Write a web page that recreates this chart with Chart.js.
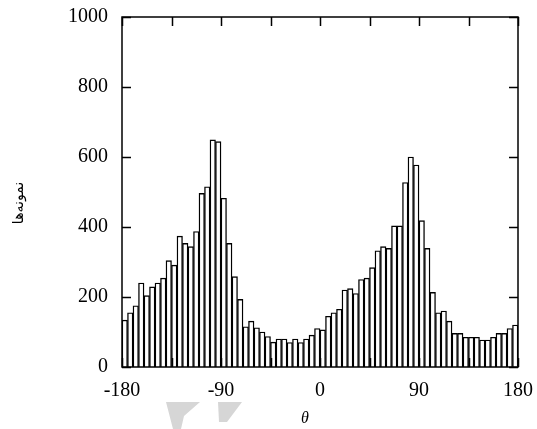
<!DOCTYPE html>
<html>
<head>
<meta charset="utf-8">
<script src="https://cdn.jsdelivr.net/npm/chart.js@4"></script>
<style>
  html, body { margin: 0; padding: 0; background: #fff; }
  canvas { display: block; }
</style>
</head>
<body>
<canvas id="hist" width="537" height="429"></canvas>
<script>
// ── data ─────────────────────────────────────
const binCenters = [
  -177.5, -172.5, -167.5, -162.5, -157.5, -152.5, -147.5, -142.5, -137.5, -132.5,
  -127.5, -122.5, -117.5, -112.5, -107.5, -102.5, -97.5, -92.5, -87.5, -82.5,
  -77.5, -72.5, -67.5, -62.5, -57.5, -52.5, -47.5, -42.5, -37.5, -32.5,
  -27.5, -22.5, -17.5, -12.5, -7.5, -2.5, 2.5, 7.5, 12.5, 17.5,
  22.5, 27.5, 32.5, 37.5, 42.5, 47.5, 52.5, 57.5, 62.5, 67.5,
  72.5, 77.5, 82.5, 87.5, 92.5, 97.5, 102.5, 107.5, 112.5, 117.5,
  122.5, 127.5, 132.5, 137.5, 142.5, 147.5, 152.5, 157.5, 162.5, 167.5,
  172.5, 177.5,
];
const counts = [
  134, 155, 175, 240, 204, 229, 240, 254, 304, 291,
  374, 353, 344, 387, 496, 515, 649, 644, 482, 353,
  258, 193, 115, 131, 112, 100, 87, 71, 80, 80,
  70, 80, 70, 80, 91, 110, 106, 145, 155, 165,
  220, 224, 210, 250, 254, 284, 332, 344, 339, 403,
  403, 527, 600, 577, 418, 339, 213, 155, 160, 131,
  96, 96, 85, 85, 85, 77, 77, 85, 96, 96,
  110, 120,
];
const xTickStep = 45;
const yTicks = [0, 200, 400, 600, 800, 1000];
const xTitle = 'θ';
const yTitle = 'نمونه‌ها';

const SERIF = '"Liberation Serif", "DejaVu Serif", serif';
const tickFont = { family: SERIF, size: 20 };

// no automatic label overhang padding: the plot box is set by layout.padding
const noOverhang = s => {
  s.paddingLeft = 0; s.paddingRight = 0;
  s.paddingTop = 0; s.paddingBottom = 0;
};

// frame, inward ticks, titles and the grey watermark
const framePlugin = {
  id: 'frame',
  beforeDraw(chart) {
    const c = chart.ctx;
    c.save();
    c.fillStyle = '#d6d6d6';
    c.beginPath();
    c.moveTo(166, 402); c.lineTo(200, 402); c.lineTo(184, 416);
    c.lineTo(181, 429); c.lineTo(173, 429); c.closePath(); c.fill();
    c.beginPath();
    c.moveTo(218, 402); c.lineTo(242, 402); c.lineTo(227, 422);
    c.lineTo(219, 422); c.closePath(); c.fill();
    c.restore();
  },
  afterDraw(chart) {
    const c = chart.ctx;
    const a = chart.chartArea;
    const xs = chart.scales.x, ys = chart.scales.y;
    const len = 9;
    c.save();
    c.strokeStyle = '#000';
    c.lineWidth = 1.5;
    c.strokeRect(a.left, a.top, a.right - a.left, a.bottom - a.top);
    c.beginPath();
    xs.ticks.forEach(t => {
      const px = Math.round(xs.getPixelForValue(t.value)) + 0.5;
      c.moveTo(px, a.bottom); c.lineTo(px, a.bottom - len);
      c.moveTo(px, a.top); c.lineTo(px, a.top + len);
    });
    ys.ticks.forEach(t => {
      const py = Math.round(ys.getPixelForValue(t.value)) + 0.5;
      c.moveTo(a.left, py); c.lineTo(a.left + len, py);
      c.moveTo(a.right, py); c.lineTo(a.right - len, py);
    });
    c.stroke();

    c.fillStyle = '#000';
    c.textAlign = 'center';
    c.textBaseline = 'middle';
    c.font = 'italic 16px ' + SERIF;
    c.fillText(xTitle, 305, 419);

    c.translate(19, 203);
    c.rotate(-Math.PI / 2);
    c.font = '14px "DejaVu Sans", sans-serif';
    c.fillText(yTitle, 0, 0);
    c.restore();
  },
};

new Chart(document.getElementById('hist').getContext('2d'), {
  type: 'bar',
  data: {
    datasets: [{
      data: binCenters.map((x, i) => ({ x, y: counts[i] })),
      backgroundColor: '#fff',
      borderColor: '#000',
      borderWidth: 1.4,
      borderSkipped: 'bottom',
      barPercentage: 1,
      categoryPercentage: 1,
    }],
  },
  options: {
    responsive: false,
    animation: false,
    layout: { padding: { top: 17, right: 19, left: 0, bottom: 0 } },
    scales: {
      x: {
        type: 'linear',
        min: -180, max: 180,
        offset: false,
        grid: { display: false, drawTicks: false },
        border: { display: false },
        ticks: {
          stepSize: xTickStep,
          autoSkip: false,
          maxRotation: 0,
          padding: 12,
          color: '#000',
          font: tickFont,
          callback: v => (v % 90 === 0 ? String(v) : ''),
        },
        afterFit: s => { noOverhang(s); s.height = 62; },
      },
      y: {
        min: yTicks[0], max: yTicks[yTicks.length - 1],
        grid: { display: false, drawTicks: false },
        border: { display: false },
        afterBuildTicks: s => { s.ticks = yTicks.map(v => ({ value: v })); },
        ticks: {
          padding: 14,
          color: '#000',
          font: tickFont,
          callback: v => String(v),
        },
        afterFit: s => { noOverhang(s); s.width = 122; },
      },
    },
    plugins: {
      legend: { display: false },
      tooltip: { enabled: false },
    },
  },
  plugins: [framePlugin],
});
</script>
</body>
</html>
